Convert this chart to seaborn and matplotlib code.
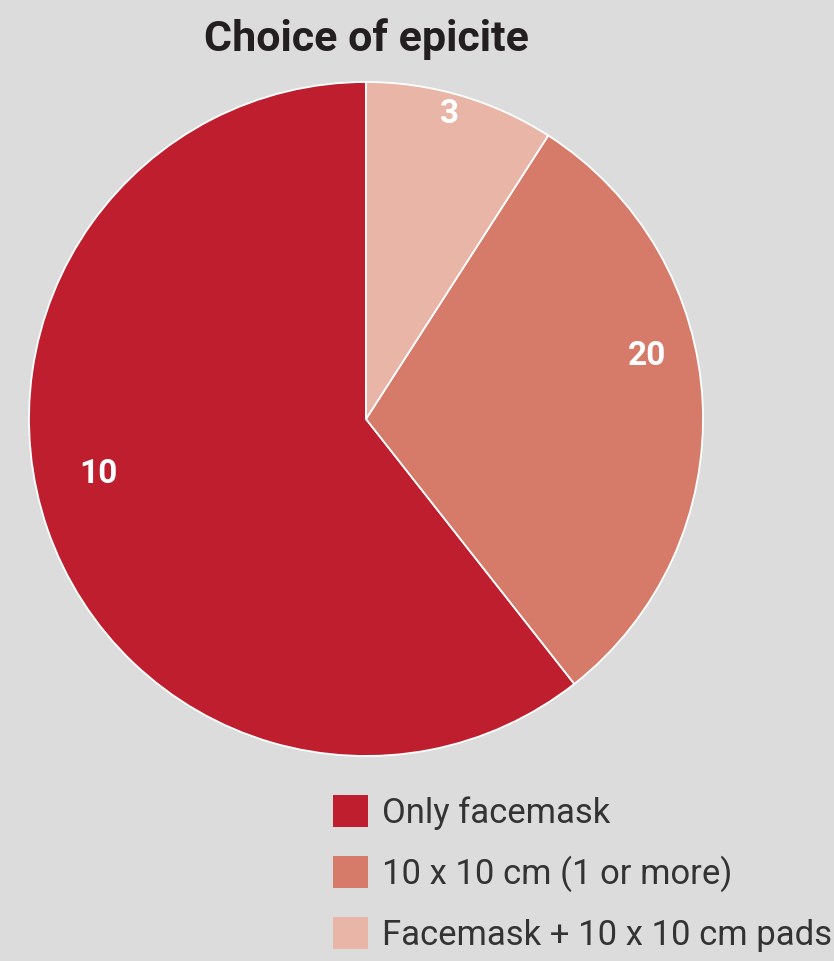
import numpy as np
import matplotlib
matplotlib.use("Agg")
import matplotlib.pyplot as plt
import seaborn as sns

# data
categories = ["Only facemask", "10 x 10 cm (1 or more)", "Facemask + 10 x 10 cm pads"]
slice_values = [20, 10, 3]
# labels as printed on the slices in the original
slice_labels = ["10", "20", "3"]
colors = ["#be1e2d", "#d67b69", "#e8b5a6"]

sns.set_theme(style="white")
plt.rcParams["font.family"] = ["Roboto", "DejaVu Sans"]

W, H = 834, 961
bg = "#dcdcdc"
fig = plt.figure(figsize=(W / 100, H / 100), dpi=100)
fig.patch.set_facecolor(bg)

# pie axes: centre (366, 419), radius 337 px
cx, cy, r = 366, 419, 337
ax = fig.add_axes([(cx - r) / W, (H - cy - r) / H, 2 * r / W, 2 * r / H])
ax.set_facecolor(bg)

wedges, _ = ax.pie(
    slice_values,
    colors=colors,
    startangle=90,
    counterclock=True,
    radius=1.0,
    wedgeprops=dict(edgecolor="white", linewidth=1.3),
)
ax.set_xlim(-1, 1)
ax.set_ylim(-1, 1)
ax.set_aspect("equal")
ax.axis("off")

# label placement tweaks (angle shift in degrees, radius fraction)
label_nudge = [(-7.5, 0.81), (10.0, 0.855), (1.0, 0.94)]
for w, txt, (da, rr) in zip(wedges, slice_labels, label_nudge):
    mid = np.deg2rad((w.theta1 + w.theta2) / 2 + da)
    ax.text(rr * np.cos(mid), rr * np.sin(mid), txt, ha="center", va="center",
            color="white", fontsize=24, fontweight="bold")

fig.text(cx / W, 1 - 39 / H, "Choice of epicite", ha="center", va="center",
         fontsize=31, fontweight="bold", color="#231f20")

leg = fig.legend(
    wedges, categories,
    loc="upper left",
    bbox_to_anchor=(333 / W, 1 - 795 / H),
    frameon=False,
    prop=dict(family=["Roboto", "DejaVu Sans"], size=24.9, weight="normal"),
    handlelength=1.0,
    handleheight=1.06,
    handletextpad=0.42,
    labelspacing=0.73,
    borderaxespad=0,
    borderpad=0,
)
for t in leg.get_texts():
    t.set_color("#333333")
for h in leg.legend_handles:
    h.set_edgecolor("none")

fig.savefig("out.png", dpi=100, facecolor=bg)
